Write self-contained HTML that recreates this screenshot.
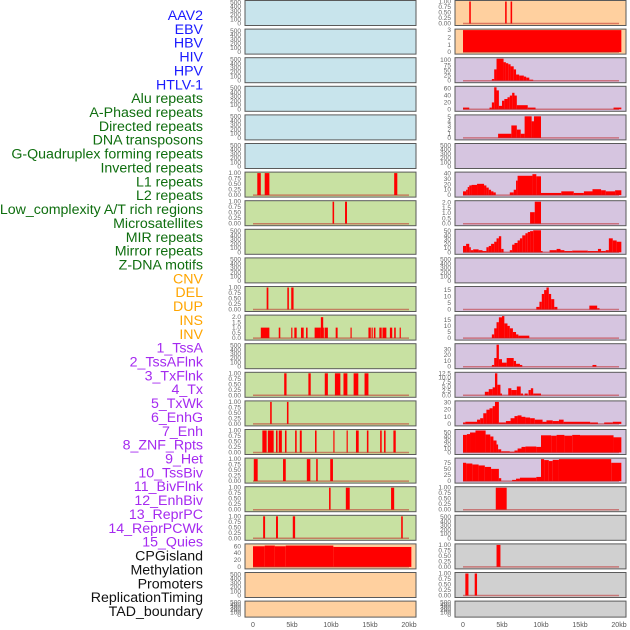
<!DOCTYPE html>
<html><head><meta charset="utf-8"><style>
html,body{margin:0;padding:0;background:#fff;}
svg{display:block;font-family:"Liberation Sans",sans-serif;}
</style></head><body>
<svg id="chart" width="630" height="630" viewBox="0 0 630 630" xmlns="http://www.w3.org/2000/svg"></svg>
<script>
const trackLabels = ["AAV2","EBV","HBV","HIV","HPV","HTLV-1","Alu repeats","A-Phased repeats","Directed repeats","DNA transposons","G-Quadruplex forming repeats","Inverted repeats","L1 repeats","L2 repeats","Low_complexity A/T rich regions","Microsatellites","MIR repeats","Mirror repeats","Z-DNA motifs","CNV","DEL","DUP","INS","INV","1_TssA","2_TssAFlnk","3_TxFlnk","4_Tx","5_TxWk","6_EnhG","7_Enh","8_ZNF_Rpts","9_Het","10_TssBiv","11_BivFlnk","12_EnhBiv","13_ReprPC","14_ReprPCWk","15_Quies","CPGisland","Methylation","Promoters","ReplicationTiming","TAD_boundary"];
const labelGroups = [6,13,5,15,5];
const groupColors = ["#1a1aff","#0f6e0f","#ffa500","#a52af0","#111111"];

const xTicks = [0,5,10,15,20];
const xTickLabels = ["0","5kb","10kb","15kb","20kb"];

const leftColors = ["b","b","b","b","b","b","g","g","g","g","g","g","g","g","g","g","g","g","g","o","o","o"];
const rightColors = ["o","o","p","p","p","p","p","p","p","p","p","p","p","p","p","p","p","x","x","x","x","x"];

const leftYmax = [520,520,520,520,520,520,1,1,520,520,1,2.1,520,1,1,1,1,1,1,64,520,520];
const rightYmax = [1,3,107,64,5.3,520,41,2.1,52,520,17,18,38,12.5,31,55,90,1,520,1,1,520];

const L6 = [[0.55,1.0,1],[1.5,2.1,1],[18.1,18.5,1]];
const L7 = [[10.2,10.4,1],[11.8,12.05,1]];
const L10 = [[1.75,1.97,1],[4.4,4.6,1],[4.9,5.2,1]];
const L11 = [[1.0,2.1,1],[3.3,3.5,1],[4.9,5.05,1],[5.3,5.6,1],[6.15,6.5,1],[6.8,7.0,1],[7.9,8.7,1],[8.7,9.0,2],[9.0,9.1,1],[9.2,9.6,1],[10.6,10.85,1],[12.5,12.65,1],[14.8,15.1,1],[15.2,15.35,1],[15.5,15.7,1],[16.2,16.5,1],[16.6,17.1,1],[17.55,17.85,1],[18.1,18.3,1],[18.8,18.95,1]];
const L13 = [[4.0,4.3,1],[7.1,7.4,1],[9.2,9.6,1],[10.5,11.2,1],[11.6,12.1,1],[12.9,13.5,1],[14.3,14.8,1]];
const L14 = [[2.2,2.4,1],[4.35,4.55,1]];
const L15 = [[1.2,1.75,1],[1.9,2.65,1],[2.95,3.15,1],[3.3,3.7,1],[4.1,4.3,1],[5.4,5.6,1],[6.0,6.25,1],[7.95,8.15,1],[10.3,10.45,1],[12.0,12.15,1],[13.2,13.55,1],[14.6,14.8,1],[16.3,16.5,1],[16.8,17.0,1],[18.0,18.3,1]];
const L16 = [[0.1,0.6,1],[3.85,4.2,1],[6.9,7.35,1],[8.1,8.3,1],[9.9,10.25,1]];
const L17 = [[9.75,9.95,1],[11.9,12.4,1],[17.7,18.1,1]];
const L18 = [[1.3,1.55,1],[2.95,3.2,1],[5.1,5.4,1],[19.0,19.2,1]];
const L19 = [[0,1.5,60],[1.5,2.8,62],[2.8,4.2,60],[4.2,10.3,62],[10.3,20.3,58]];
const leftSeries = [[],[],[],[],[],[],L6,L7,[],[],L10,L11,[],L13,L14,L15,L16,L17,L18,L19,[],[]];

const R0 = [[0.8,1.0,1],[5.4,5.6,1],[6.1,6.3,1]];
const R1 = [[0,20.3,3]];
const R2 = [[3.7,4.0,8],[4.0,4.3,55],[4.3,5.2,107],[5.2,5.5,90],[5.5,5.8,85],[5.8,6.1,80],[6.1,6.5,70],[6.5,6.8,55],[6.8,7.2,30],[7.2,7.8,25],[7.8,8.1,20],[8.1,8.5,15],[8.5,9.0,5]];
const R3 = [[0,0.8,5],[3.4,3.7,5],[3.7,4.0,20],[4.0,4.3,64],[4.3,4.6,55],[4.6,5.0,10],[5.0,5.3,25],[5.3,5.7,30],[5.7,6.0,35],[6.0,6.3,40],[6.3,6.6,48],[6.6,6.9,40],[6.9,8.3,12],[8.3,9.3,5],[19.3,20.3,5]];
const R4 = [[4.5,6.2,1],[6.2,6.9,3],[6.9,7.4,2],[7.4,7.9,1],[7.9,8.8,5.2],[8.8,9.1,4],[9.1,10.0,5.2]];
const R6 = [[0,0.4,7],[0.4,0.6,10],[0.6,0.8,15],[0.8,1.1,18],[1.1,1.8,19],[1.8,2.7,21],[2.7,3.0,18],[3.0,3.3,14],[3.3,3.6,10],[3.6,3.9,7],[3.9,4.2,5],[6.0,6.5,5],[6.5,6.8,10],[6.8,7.0,27],[7.0,8.9,36],[8.9,9.4,39],[9.4,10.0,35],[10.0,12.6,4],[12.6,14.2,7],[14.2,15.5,4],[15.5,16.6,7],[16.6,17.7,11],[17.7,18.3,9],[18.3,19.5,7],[19.5,20.3,9]];
const R7 = [[8.6,9.2,1.1],[9.2,10.0,2.1]];
const R8 = [[0,0.4,15],[0.4,0.8,20],[0.8,1.0,12],[1.0,1.3,5],[1.3,2.0,7],[2.0,2.5,5],[2.5,3.0,3],[3.0,3.3,12],[3.3,3.6,15],[3.6,4.0,20],[4.0,4.3,25],[4.3,4.6,33],[4.6,4.9,38],[4.9,5.2,8],[6.0,6.3,5],[6.3,6.6,18],[6.6,7.0,22],[7.0,7.3,28],[7.3,7.6,33],[7.6,8.0,40],[8.0,8.3,45],[8.3,8.6,48],[8.6,9.0,50],[9.0,10.0,52],[10.0,10.2,3],[11.1,12.0,5],[12.0,12.5,8],[12.5,13.0,5],[13.0,14.0,3],[14.0,16.0,4],[16.0,17.3,3],[17.3,17.7,8],[17.7,18.3,3],[18.3,18.7,5],[18.7,19.2,33],[19.2,19.7,28],[19.7,20.3,25]];
const R10 = [[9.4,9.8,2],[9.8,10.1,6],[10.1,10.4,12],[10.4,10.7,15],[10.7,11.0,17],[11.0,11.3,12],[11.3,11.7,8],[11.7,12.1,2],[16.2,17.2,3],[17.2,17.5,1]];
const R11 = [[3.7,4.0,3],[4.0,4.3,8],[4.3,4.6,13],[4.6,5.0,17],[5.0,5.3,18],[5.3,5.7,12],[5.7,6.0,10],[6.0,6.4,8],[6.4,6.8,5],[6.8,7.1,3],[7.1,8.5,2]];
const R12 = [[3.7,4.0,3],[4.0,4.3,15],[4.3,4.6,38],[4.6,5.0,13],[5.0,5.6,7],[5.6,6.5,15],[6.5,6.8,10],[6.8,7.3,5],[7.3,7.6,3],[16.6,17.1,3]];
const R13 = [[2.8,3.3,2],[3.3,3.8,3.5],[3.8,4.1,4.5],[4.1,4.4,12.5],[4.4,4.8,6],[4.8,5.0,1],[5.8,6.2,4],[6.2,6.9,3],[6.9,7.4,5],[7.4,7.7,1],[7.9,8.3,1],[8.4,8.7,3],[8.7,9.0,4],[9.0,10.0,1]];
const R14 = [[0,0.3,2],[0.3,1.8,3],[1.8,2.2,6],[2.2,2.6,8],[2.6,3.0,15],[3.0,3.4,20],[3.4,3.8,22],[3.8,4.1,25],[4.1,4.6,31],[4.6,5.5,2],[5.5,6.1,4],[6.1,6.6,8],[6.6,7.0,11],[7.0,7.5,12],[7.5,8.0,10],[8.0,8.6,9],[8.6,9.2,8],[9.2,10.2,6],[10.2,10.7,3],[10.7,11.5,5],[11.5,12.3,4],[12.3,12.9,6],[12.9,16.3,3],[16.3,17.3,2],[18.1,19.2,2],[19.2,20.3,3]];
const R15 = [[0,0.5,44],[0.5,0.9,46],[0.9,1.6,50],[1.6,2.9,55],[2.9,3.5,45],[3.5,3.9,40],[3.9,4.3,30],[4.3,4.5,20],[4.5,4.9,8],[4.9,6.0,3],[6.0,6.6,2],[6.6,7.0,5],[7.0,7.5,10],[7.5,8.0,14],[8.0,9.4,15],[9.4,10.0,14],[10.0,11.3,43],[11.3,12.0,42],[12.0,13.0,44],[13.0,14.0,42],[14.0,15.0,44],[15.0,19.3,43],[19.3,20.3,38]];
const R16 = [[0,0.4,75],[0.4,1.2,72],[1.2,2.0,68],[2.0,2.8,64],[2.8,3.6,58],[3.6,4.6,50],[4.6,4.9,12],[6.3,6.8,5],[6.8,7.3,10],[7.3,9.4,14],[9.4,10.0,17],[10.0,10.4,90],[10.4,11.0,86],[11.0,11.5,82],[11.5,12.3,87],[12.3,19.0,90],[19.0,20.3,75]];
const R17 = [[4.2,5.6,1]];
const R19 = [[4.3,4.8,1]];
const R20 = [[0.3,0.7,1],[1.5,1.8,1]];
const rightSeries = [R0,R1,R2,R3,R4,[],R6,R7,R8,[],R10,R11,R12,R13,R14,R15,R16,R17,[],R19,R20,[]];

const NS = "http://www.w3.org/2000/svg";
const svg = document.getElementById('chart');
const bgMap = {b:"#c8e4ec",g:"#c8e1a2",o:"#ffd09f",p:"#d6c5e0",x:"#d0d0d0"};
function mk(tag, attrs){const e=document.createElementNS(NS,tag);for(const k in attrs)e.setAttribute(k,attrs[k]);svg.appendChild(e);return e;}

let li=0;
labelGroups.forEach((n,g)=>{for(let j=0;j<n;j++){
  const t=mk('text',{x:203,y:(20+13.86*li).toFixed(1),'text-anchor':'end','font-size':'14.2',fill:groupColors[g]});
  t.textContent=trackLabels[li];
  
  
  li++;}});

function ticksFor(ymax){
  if(ymax===520) return [0,100,200,300,400,500];
  if(ymax===1) return [0,0.25,0.5,0.75,1];
  if(ymax===2.1) return [0,0.5,1,1.5,2];
  if(ymax===3) return [0,1,2,3];
  if(ymax===5.3) return [0,1,2,3,4,5];
  if(ymax===107) return [0,25,50,75,100];
  if(ymax===64) return [0,20,40,60];
  if(ymax===41) return [0,10,20,30,40];
  if(ymax===52) return [0,10,20,30,40,50];
  if(ymax===17||ymax===18) return [0,5,10,15];
  if(ymax===38||ymax===31) return [0,10,20,30];
  if(ymax===12.5) return [0,2.5,5,7.5,10,12.5];
  if(ymax===55) return [0,10,20,30,40,50];
  if(ymax===90) return [0,25,50,75];
  return [0];
}
function fmt(v,ymax){
  if(ymax===1) return v.toFixed(2);
  if(ymax===2.1||ymax===12.5) return v.toFixed(1);
  return String(v);
}

function drawPanel(side,i,px,color,ymax,series){
  const top=0.5+28.6*i, h=(i===21?16:25), bottom=top+h;
  const x0=px+8, kb=7.8;
  const xs=v=>x0+v*kb;
  const ys=v=>bottom-2-(v/ymax)*(h-3);
  const r=mk('rect',{x:px,y:top,width:171,height:h,fill:bgMap[color],stroke:'#5a5a5a','stroke-width':1});
  
  
  ticksFor(ymax).forEach(t=>{
    const tx=mk('text',{x:px-4,y:(ys(t)+2).toFixed(1),'text-anchor':'end','font-size':'6.5',fill:'#666'});
    tx.textContent=fmt(t,ymax);
    
    
  });
  series.forEach(s=>{
    const b=mk('rect',{x:xs(s[0]).toFixed(2),y:ys(s[2]).toFixed(2),width:Math.max(1,(s[1]-s[0])*kb).toFixed(2),height:(ys(0)-ys(s[2])).toFixed(2),fill:'#ff0000'});
    
    
  });
  if(ymax!==520){
    const bl=mk('line',{x1:xs(0),x2:xs(20),y1:ys(0),y2:ys(0),stroke:'rgba(190,30,30,0.5)','stroke-width':1.5});
    
    
  }
}
for(let i=0;i<22;i++){
  drawPanel('left',i,245,leftColors[i],leftYmax[i],leftSeries[i]);
  drawPanel('right',i,455,rightColors[i],rightYmax[i],rightSeries[i]);
}
[253,463].forEach((x0,k)=>{
  xTicks.forEach((t,j)=>{
    const tx=mk('text',{x:x0+t*7.8,y:627,'text-anchor':'middle','font-size':'7',fill:'#555'});
    tx.textContent=xTickLabels[j];
    
    
  });
});
</script>
</body></html>
